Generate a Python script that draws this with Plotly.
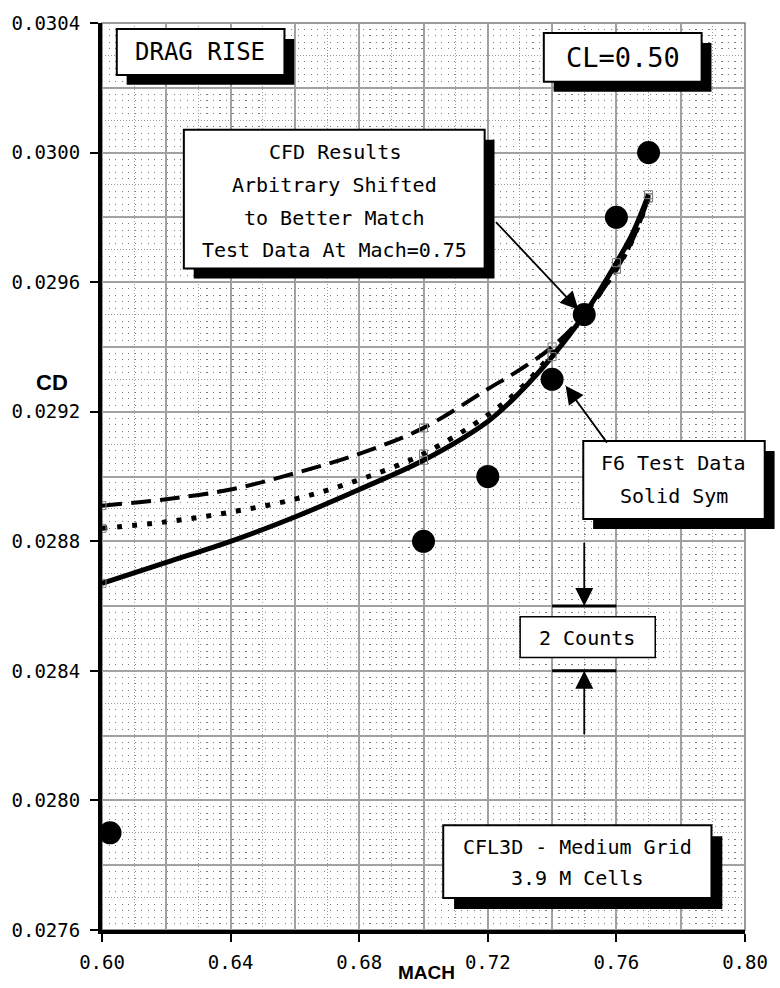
import plotly.graph_objects as go

# ---- data -------------------------------------------------------------
# F6 wind-tunnel test data (solid symbols)
mach_test = [0.6025, 0.70, 0.72, 0.74, 0.75, 0.76, 0.77]
cd_test = [0.0279, 0.0288, 0.0290, 0.0293, 0.0295, 0.0298, 0.0300]

# CFL3D drag-rise curves (shifted to match test at M=0.75)
mach_cfd = [0.60, 0.62, 0.64, 0.66, 0.68, 0.70, 0.72, 0.73, 0.74, 0.75, 0.76, 0.765, 0.77]
cd_solid = [0.02867, 0.028735, 0.02880, 0.028875, 0.02896, 0.02905, 0.02917, 0.02926,
            0.02937, 0.02950, 0.02966, 0.02975, 0.02987]
cd_dotted = [0.02884, 0.02886, 0.02889, 0.02893, 0.02899, 0.02907, 0.02919, 0.02927,
             0.02938, 0.02950, 0.02964, 0.02973, 0.02986]
cd_dashed = [0.02891, 0.02893, 0.02896, 0.02901, 0.02907, 0.02915, 0.02927, 0.02933,
             0.02940, 0.02950, 0.02964, 0.02973, 0.02986]
# Mach numbers where the CFD solutions carry a symbol
mach_cfd_sym = [0.60, 0.70, 0.74, 0.76, 0.77]

x_ticks = [0.60, 0.64, 0.68, 0.72, 0.76, 0.80]
y_ticks = [0.0276, 0.0280, 0.0284, 0.0288, 0.0292, 0.0296, 0.0300, 0.0304]

# ---- figure geometry (px) ----------------------------------------------
W, H = 780, 988
L, R, T, B = 100, 28, 21, 58
PW, PH = W - L - R, H - T - B

MONO = "DejaVu Sans Mono"
GRID = "#a3a3a3"


def fx(px):
    return (px - L) / PW


def fy(py):
    return (T + PH - py) / PH


fig = go.Figure()

# CFD curves
for cd, width, dash in [(cd_dashed, 4, "20px,9px"),
                        (cd_dotted, 5, "5px,10px"),
                        (cd_solid, 5, "solid")]:
    fig.add_trace(go.Scatter(
        x=mach_cfd, y=cd, mode="lines", hoverinfo="skip",
        line=dict(color="black", width=width, dash=dash, shape="spline", smoothing=1.0),
    ))
    sym_idx = [mach_cfd.index(m) for m in mach_cfd_sym]
    fig.add_trace(go.Scatter(
        x=[mach_cfd[i] for i in sym_idx], y=[cd[i] for i in sym_idx],
        mode="markers", hoverinfo="skip",
        marker=dict(symbol="square-open", size=8, color="#808080", line=dict(width=1)),
    ))

# test data
fig.add_trace(go.Scatter(
    x=mach_test, y=cd_test, mode="markers", cliponaxis=False,
    marker=dict(symbol="circle", size=23, color="black"),
))

# carrier trace for the overlay grid axes
fig.add_trace(go.Scatter(x=[None], y=[None], xaxis="x2", yaxis="y2", hoverinfo="skip"))

shapes = []
annotations = []

# plot frame (top / right)
shapes.append(dict(type="rect", xref="paper", yref="paper", x0=0, y0=0, x1=1, y1=1,
                   line=dict(color="#7a7a7a", width=1.5), layer="below"))


def box(x0, y0, x1, y1, shadow=10, lw=2):
    if shadow:
        shapes.append(dict(type="rect", xref="paper", yref="paper",
                           x0=fx(x0 + shadow), x1=fx(x1 + shadow),
                           y0=fy(y1 + shadow), y1=fy(y0 + shadow),
                           fillcolor="black", line=dict(width=0)))
    shapes.append(dict(type="rect", xref="paper", yref="paper",
                       x0=fx(x0), x1=fx(x1), y0=fy(y1), y1=fy(y0),
                       fillcolor="white", line=dict(color="black", width=lw)))


def label(text, cx, cy, size=20, family=MONO, bold=False):
    annotations.append(dict(
        xref="paper", yref="paper", x=fx(cx), y=fy(cy), xanchor="center", yanchor="middle",
        text=f"<b>{text}</b>" if bold else text, showarrow=False,
        font=dict(family=family, size=size, color="black"),
    ))


box(115, 27, 285, 73)
label("DRAG RISE", 199, 50, size=24)

box(548, 31, 708, 80)
label("CL=0.50", 628, 56, size=27)

box(183, 128, 488, 267)
for txt, cy in [("CFD Results", 150), ("Arbitrary Shifted", 183),
                ("to Better Match", 216), ("Test Data At Mach=0.75", 248)]:
    label(txt, 336, cy)

box(588, 440, 772, 518)
label("F6 Test Data", 680, 462)
label("Solid Sym", 680, 495)

box(524, 616, 661, 657, shadow=0, lw=1.5)
label("2 Counts", 592, 637)

box(446, 825, 718, 898, shadow=11)
label("CFL3D - Medium Grid", 582, 847)
label("3.9 M Cells", 582, 878)

# axis titles
label("CD", 49, 381, size=22, family="Liberation Sans", bold=True)
label("MACH", 429, 973, size=19, family="Liberation Sans", bold=True)

# "2 Counts" bracket bars (0.0002 apart)
for cd in (0.0286, 0.0284):
    shapes.append(dict(type="line", xref="x", yref="y", x0=0.74, x1=0.76, y0=cd, y1=cd,
                       line=dict(color="black", width=3)))

# leader arrows (tail -> head, data units)
arrows = [
    ((0.7221, 0.02979), (0.7482, 0.029515)),
    ((0.7574, 0.02910), (0.7442, 0.02928)),
    ((0.75, 0.0288), (0.75, 0.0286)),
    ((0.75, 0.0282), (0.75, 0.0284)),
]
for (tx, ty), (hx, hy) in arrows:
    annotations.append(dict(
        x=hx, y=hy, ax=tx, ay=ty, xref="x", yref="y", axref="x", ayref="y",
        text="", showarrow=True, arrowhead=2, arrowsize=2.0, arrowwidth=1.8,
        arrowcolor="black", standoff=0, startstandoff=0,
    ))

tick_font = dict(family=MONO, size=19, color="black")

fig.update_layout(
    width=W, height=H,
    margin=dict(l=L, r=R, t=T, b=B),
    paper_bgcolor="white", plot_bgcolor="white",
    showlegend=False,
    shapes=shapes, annotations=annotations,
    xaxis=dict(
        range=[x_ticks[0], x_ticks[-1]], tickmode="linear", tick0=x_ticks[0],
        dtick=round(x_ticks[1] - x_ticks[0], 4), tickformat=".2f",
        ticks="outside", ticklen=8, tickwidth=1.5, tickcolor="black",
        showgrid=True, gridcolor=GRID, gridwidth=1.5,
        minor=dict(tick0=x_ticks[0], dtick=0.02, showgrid=True, gridcolor=GRID,
                   gridwidth=1.5, ticks=""),
        showline=True, linecolor="black", linewidth=4, zeroline=False,
        tickfont=tick_font, ticklabelstandoff=4,
    ),
    yaxis=dict(
        range=[y_ticks[0], y_ticks[-1]], tickmode="linear", tick0=y_ticks[0],
        dtick=round(y_ticks[1] - y_ticks[0], 6), tickformat=".4f",
        ticks="outside", ticklen=8, tickwidth=1.5, tickcolor="black",
        showgrid=True, gridcolor=GRID, gridwidth=1.5,
        minor=dict(tick0=y_ticks[0], dtick=0.0002, showgrid=True, gridcolor=GRID,
                   gridwidth=1.5, ticks=""),
        showline=True, linecolor="black", linewidth=4, zeroline=False,
        tickfont=tick_font, ticklabelstandoff=6,
    ),
    # fine dotted grid
    xaxis2=dict(
        overlaying="x", anchor="y2", range=[x_ticks[0], x_ticks[-1]],
        tickmode="linear", tick0=x_ticks[0], dtick=0.01,
        showticklabels=False, ticks="", showline=False, zeroline=False,
        showgrid=True, gridcolor="#9a9a9a", gridwidth=1, griddash="1px,2px",
    ),
    yaxis2=dict(
        overlaying="y", anchor="x2", range=[y_ticks[0], y_ticks[-1]],
        tickmode="linear", tick0=y_ticks[0], dtick=0.0001,
        showticklabels=False, ticks="", showline=False, zeroline=False,
        showgrid=True, gridcolor="#9a9a9a", gridwidth=1, griddash="1px,2px",
        minor=dict(tick0=y_ticks[0], dtick=0.00002, showgrid=True, gridcolor="#7a7a7a",
                   gridwidth=1.2, griddash="1.2px,5.32px", ticks=""),
    ),
)

fig.write_html("out.html")
